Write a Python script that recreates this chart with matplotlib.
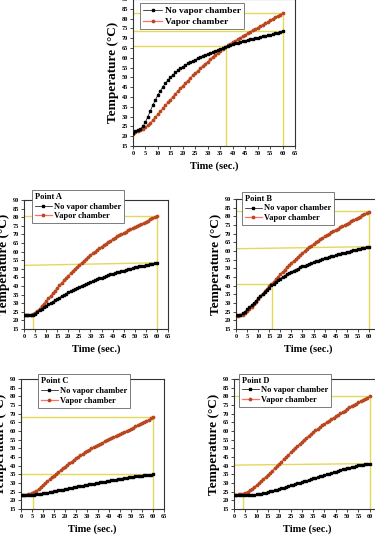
import matplotlib.pyplot as plt

plt.rcParams['font.family'] = ['Liberation Serif', 'DejaVu Serif']
plt.rcParams['font.weight'] = 'bold'

# time axis, one reading per second
time_s = list(range(61))

# --- overall comparison (top panel) ---
top_no_vc = [21.5, 22.5, 23.2, 23.8, 25.0, 27.3, 30.0, 33.0, 36.0, 38.5,
             41.0, 43.2, 45.2, 47.0, 48.6, 50.0, 51.3, 52.5, 53.6, 54.6,
             55.5, 56.3, 57.1, 57.8, 58.5, 59.1, 59.7, 60.3, 60.9, 61.4,
             61.9, 62.4, 62.9, 63.4, 63.9, 64.4, 64.9, 65.6, 66.1, 66.5,
             66.9, 67.3, 67.7, 68.1, 68.5, 68.8, 69.1, 69.4, 69.7, 70.0,
             70.3, 70.6, 70.9, 71.2, 71.5, 71.8, 72.1, 72.4, 72.8, 73.1, 73.5]
top_vc = [21.0, 22.0, 22.8, 23.3, 23.8, 24.5, 25.5, 26.8, 28.2, 29.7,
          31.2, 32.7, 34.2, 35.7, 37.2, 38.7, 40.2, 41.6, 43.0, 44.4,
          45.8, 47.1, 48.4, 49.7, 51.0, 52.2, 53.4, 54.6, 55.8, 57.0,
          58.1, 59.2, 60.3, 61.4, 62.5, 63.5, 64.5, 65.5, 66.4, 67.2,
          68.0, 68.7, 69.5, 70.2, 71.0, 71.7, 72.5, 73.2, 74.0, 74.7,
          75.4, 76.2, 76.9, 77.6, 78.4, 79.1, 79.8, 80.6, 81.3, 82.0, 82.8]

# --- point A ---
a_no_vc = [23.0, 23.0, 23.0, 23.1, 23.4, 24.0, 24.9, 25.8, 26.7, 27.6,
           28.5, 29.3, 30.1, 30.9, 31.7, 32.5, 33.3, 34.1, 34.8, 35.6,
           36.3, 37.0, 37.7, 38.3, 39.0, 39.6, 40.2, 40.8, 41.3, 41.9,
           42.4, 42.9, 43.4, 43.9, 44.4, 44.9, 45.4, 45.8, 46.3, 46.7,
           47.1, 47.5, 47.9, 48.3, 48.6, 49.0, 49.4, 49.7, 50.1, 50.4,
           50.8, 51.1, 51.4, 51.6, 51.9, 52.2, 52.5, 52.8, 53.0, 53.3, 53.5]
a_vc = [23.0, 23.0, 23.0, 23.2, 23.7, 24.5, 25.6, 26.9, 28.3, 29.8,
        31.3, 32.8, 34.3, 35.8, 37.3, 38.8, 40.3, 41.8, 43.2, 44.6,
        46.0, 47.4, 48.7, 50.0, 51.2, 52.4, 53.6, 54.7, 55.8, 56.9,
        58.0, 59.0, 60.0, 61.0, 62.0, 62.9, 63.8, 64.7, 65.6, 66.4,
        67.2, 68.0, 68.8, 69.5, 70.2, 70.9, 71.6, 72.3, 72.9, 73.6,
        74.2, 74.8, 75.4, 76.0, 76.6, 77.3, 78.0, 78.7, 79.4, 80.1, 80.8]

# --- point B ---
b_no_vc = [22.8, 23.0, 23.3, 24.0, 25.0, 26.3, 27.5, 28.8, 30.0, 31.3,
           32.6, 33.9, 35.2, 36.5, 37.7, 38.9, 40.1, 41.2, 42.2, 43.2,
           44.1, 45.0, 45.8, 46.6, 47.3, 48.0, 48.7, 49.3, 49.9, 50.5,
           51.1, 51.6, 52.1, 52.6, 53.1, 53.6, 54.0, 54.5, 54.9, 55.3,
           55.7, 56.1, 56.5, 56.9, 57.3, 57.7, 58.0, 58.4, 58.7, 59.1,
           59.4, 59.7, 60.0, 60.4, 60.7, 61.0, 61.3, 61.6, 61.9, 62.2, 62.5]
b_vc = [22.5, 22.5, 22.8, 23.3, 24.2, 25.3, 26.5, 27.8, 29.2, 30.7,
        32.2, 33.8, 35.3, 36.8, 38.2, 39.6, 40.9, 42.4, 43.8, 45.2,
        46.6, 48.0, 49.3, 50.6, 51.9, 53.1, 54.3, 55.5, 56.7, 57.8,
        58.9, 60.0, 61.1, 62.1, 63.1, 64.1, 65.0, 65.9, 66.8, 67.6,
        68.4, 69.2, 70.0, 70.8, 71.5, 72.2, 72.9, 73.6, 74.3, 75.0,
        75.7, 76.4, 77.1, 77.8, 78.5, 79.2, 79.9, 80.6, 81.3, 82.0, 82.7]

# --- point C ---
c_no_vc = [23.0, 23.0, 23.0, 23.0, 23.0, 23.1, 23.2, 23.4, 23.6, 23.8,
           24.0, 24.2, 24.5, 24.7, 25.0, 25.2, 25.5, 25.7, 26.0, 26.2,
           26.5, 26.7, 27.0, 27.2, 27.5, 27.7, 28.0, 28.2, 28.4, 28.7,
           28.9, 29.2, 29.4, 29.6, 29.9, 30.1, 30.3, 30.6, 30.8, 31.0,
           31.2, 31.5, 31.7, 31.9, 32.1, 32.3, 32.5, 32.8, 33.0, 33.2,
           33.4, 33.6, 33.8, 34.0, 34.2, 34.3, 34.5, 34.6, 34.8, 34.9, 35.0]
c_vc = [23.2, 23.2, 23.3, 23.4, 23.6, 24.0, 24.7, 25.6, 26.6, 27.7,
        28.8, 29.9, 31.0, 32.1, 33.2, 34.3, 35.4, 36.4, 37.4, 38.4,
        39.4, 40.4, 41.4, 42.4, 43.3, 44.2, 45.1, 46.0, 46.9, 47.8,
        48.6, 49.3, 50.0, 50.6, 51.2, 51.9, 52.6, 53.3, 54.0, 54.6,
        55.2, 55.8, 56.4, 57.0, 57.6, 58.2, 58.8, 59.4, 60.0, 60.5,
        61.2, 61.9, 62.6, 63.2, 63.9, 64.6, 65.2, 65.9, 66.6, 67.3, 68.0]

# --- point D ---
d_no_vc = [23.0, 23.0, 23.0, 23.0, 23.0, 23.0, 23.1, 23.1, 23.2, 23.3,
           23.5, 23.7, 23.9, 24.2, 24.5, 24.8, 25.1, 25.4, 25.8, 26.2,
           26.6, 27.0, 27.4, 27.8, 28.2, 28.6, 29.0, 29.4, 29.8, 30.2,
           30.6, 31.0, 31.4, 31.8, 32.2, 32.6, 33.0, 33.4, 33.8, 34.2,
           34.6, 35.0, 35.4, 35.8, 36.2, 36.6, 37.0, 37.4, 37.8, 38.2,
           38.5, 38.9, 39.2, 39.5, 39.8, 40.1, 40.4, 40.6, 40.8, 41.0, 41.2]
d_vc = [23.3, 23.3, 23.4, 23.5, 23.8, 24.3, 25.0, 25.8, 26.7, 27.7,
        28.8, 29.9, 31.1, 32.3, 33.5, 34.7, 35.9, 37.2, 38.5, 39.8,
        41.1, 42.4, 43.7, 45.0, 46.3, 47.6, 48.9, 50.1, 51.3, 52.5,
        53.7, 54.9, 56.0, 57.1, 58.2, 59.3, 60.3, 61.3, 62.3, 63.3,
        64.2, 65.1, 66.0, 66.9, 67.7, 68.5, 69.3, 70.1, 70.9, 71.7,
        72.8, 73.6, 74.4, 75.1, 75.8, 76.5, 77.2, 77.9, 78.6, 79.3, 80.0]

# yellow guide lines (x0, x1, y0, y1)
top_guides = [(0, 60, 82.8, 82.8), (0, 60, 73.5, 73.5), (0, 37.5, 66, 66),
              (37.5, 37.5, 15, 66), (60, 60, 15, 82.8)]
a_guides = [(0, 60, 80.8, 80.8), (0, 60, 52, 53.5), (4, 4, 15, 23.3), (60, 60, 15, 80.8)]
b_guides = [(0, 60, 83, 83), (0, 60, 61.3, 62.5), (0, 16.4, 40.8, 40.8),
            (16.4, 16.4, 15, 40.8), (60, 60, 15, 83)]
c_guides = [(0, 60, 68, 68), (0, 60, 35, 35), (5.3, 5.3, 15, 23.3), (60, 60, 15, 68)]
d_guides = [(0, 60, 80, 80), (0, 60, 40.3, 41.2), (3.8, 3.8, 15, 23.3), (60, 60, 15, 80)]

GUIDE = '#e4d85a'
VC_LINE = '#ff7070'
VC_MARK = '#b9471f'

fig = plt.figure(figsize=(3.75, 5.4), dpi=100)
W, H = 375, 540


def panel(box, no_vc, vc, guides, title, leg_xy, leg_size=6.0):
    l, t, r, b = box
    ax = fig.add_axes([l / W, 1 - b / H, (r - l) / W, (b - t) / H])
    for x0, x1, y0, y1 in guides:
        ax.plot([x0, x1], [y0, y1], color=GUIDE, lw=1.0, zorder=1)
    ax.plot(time_s, no_vc, color='black', lw=0.5, marker='s', ms=1.7,
            mec='black', mfc='black', label='No vapor chamber', zorder=3)
    ax.plot(time_s, vc, color=VC_LINE, lw=0.9, marker='o', ms=1.7,
            mec=VC_MARK, mfc=VC_MARK, label='Vapor chamber', zorder=2)
    ax.set_xlim(0, 65)
    ax.set_ylim(15, 90)
    ax.set_xticks(range(0, 70, 5))
    ax.set_yticks(range(15, 95, 5))
    ax.tick_params(labelsize=4.5, length=2, width=0.5, pad=1.5)
    for s in ax.spines.values():
        s.set_linewidth(0.8)
        s.set_color('#333333')
    ax.set_xlabel('Time (sec.)', fontsize=7.5, fontweight='bold', labelpad=4)
    ax.set_ylabel('Temperature (°C)', fontsize=9.5, fontweight='bold', labelpad=2)
    leg = ax.legend(loc='lower left', bbox_to_anchor=leg_xy, title=title,
                    fontsize=leg_size, frameon=True, fancybox=False, edgecolor='#666666',
                    framealpha=1, borderpad=0.35, handlelength=2.0,
                    handletextpad=0.3, labelspacing=0.2, borderaxespad=0,
                    alignment='left',
                    title_fontproperties={'weight': 'bold', 'size': leg_size})
    leg.get_frame().set_linewidth(0.6)
    return ax


panel((133, -1, 295, 146), top_no_vc, top_vc, top_guides, None, (0.043, 0.795), 6.8)
panel((24, 200, 168, 329), a_no_vc, a_vc, a_guides, 'Point A', (0.056, 0.82))
panel((236, 199, 380, 329), b_no_vc, b_vc, b_guides, 'Point B', (0.042, 0.80))
panel((21, 379, 164, 509), c_no_vc, c_vc, c_guides, 'Point C', (0.12, 0.78))
panel((234, 379, 381, 509), d_no_vc, d_vc, d_guides, 'Point D', (0.034, 0.785))

fig.savefig('out.png', dpi=100)
